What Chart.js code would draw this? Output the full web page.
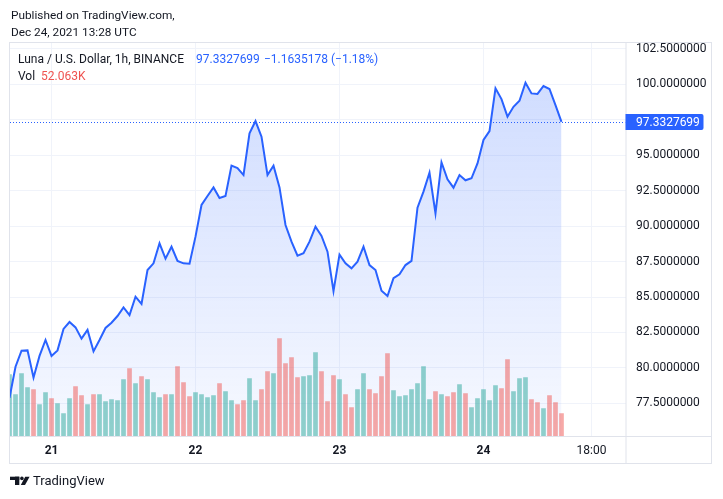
<!DOCTYPE html>
<html><head><meta charset="utf-8">
<script src="https://cdn.jsdelivr.net/npm/chart.js@4.4.0/dist/chart.umd.min.js"></script>
<style>
html,body{margin:0;padding:0;background:#fff;}
body{width:723px;height:499px;position:relative;overflow:hidden;font-family:Roboto,'Open Sans',sans-serif;color:#131722;}
#wrap{position:absolute;left:0;top:0;width:723px;height:499px;}
.t{position:absolute;white-space:nowrap;font-size:12px;line-height:16px;}
.blue{color:#2962ff;}
.red{color:#ef5350;}
</style></head><body>
<div id="wrap"><canvas id="c" width="723" height="499"></canvas></div>
<div class="t" style="left:11px;top:7px;font-size:11.8px">Published on TradingView.com,</div>
<div class="t" style="left:11px;top:24px;font-size:11.8px">Dec 24, 2021 13:28 UTC</div>
<div class="t" style="left:18px;top:51px">Luna / U.S. Dollar, 1h, BINANCE</div>
<div class="t blue" style="left:196px;top:51px" id="lastTxt"></div>
<div class="t blue" style="left:264px;top:51px">−1.1635178 (−1.18%)</div>
<div class="t" style="left:18px;top:68px">Vol</div>
<div class="t red" style="left:41px;top:68px">52.063K</div>
<svg style="position:absolute;left:0;top:470px" width="40" height="22">
  <rect x="10" y="6.7" width="9.3" height="3.3" fill="#131722"/>
  <rect x="15" y="6.7" width="4.3" height="8.3" fill="#131722"/>
  <circle cx="21.9" cy="8.4" r="1.8" fill="#131722"/>
  <polygon points="25.2,6.7 29.6,6.7 25,15 20.8,15" fill="#131722"/>
</svg>
<div class="t" style="left:33px;top:472px;font-size:13px;line-height:18px">TradingView</div>
<script>
// ---- data ----
const startHour = -7; // Dec 20 17:00, hours relative to Dec 21 00:00 (hourly bars)
const prices = [
  77.9, 80.09, 81.22, 81.24, 79.32, 80.85, 81.97,
  80.85, 81.24, 82.75, 83.24, 82.86, 82.07, 82.68, 81.17, 81.97, 82.82, 83.19, 83.66, 84.27, 83.73, 85.02, 84.51, 86.90, 87.37, 88.78, 87.70, 88.54, 87.54, 87.37, 87.35,
  89.25, 91.48, 92.11, 92.72, 91.97, 92.11, 94.25, 94.08, 93.59, 96.53, 97.39, 96.29, 93.59, 94.25, 92.72, 90.07, 88.90, 87.91, 88.08, 88.90, 89.95, 89.30, 88.19, 85.42,
  87.98, 87.37, 87.02, 87.49, 88.54, 87.25, 86.90, 85.44, 85.07, 86.32, 86.60, 87.25, 87.54, 91.29, 92.42, 93.75, 90.89, 94.48, 93.29, 92.70, 93.59, 93.22, 93.36, 94.41,
  96.06, 96.69, 99.70, 98.94, 97.70, 98.40, 98.82, 100.09, 99.34, 99.30, 99.86, 99.65, 98.52, 97.3327699
];
const volumes = [
  141.6, 95.7, 143.9, 111.8, 107.2, 72.7, 100.3,
  86.5, 75.0, 52.1, 86.5, 114.1, 93.4, 72.7, 95.7, 95.7, 79.6, 84.2, 81.9, 130.2, 155.4, 121.0, 137.0, 130.2, 100.3, 88.8, 95.7, 95.7, 160.0, 123.3, 91.1,
  100.3, 95.7, 88.8, 93.4, 121.0, 102.6, 81.9, 72.7, 81.9, 132.4, 81.9, 107.2, 148.5, 143.9, 224.3, 166.9, 180.7, 134.7, 137.0, 139.3, 192.2, 148.5, 79.6, 139.3,
  130.2, 95.7, 65.8, 107.2, 143.9, 107.2, 98.0, 137.0, 189.9, 104.9, 91.1, 93.4, 107.2, 121.0, 160.0, 84.2, 102.6, 95.7, 91.1, 100.3, 118.7, 98.0, 65.8, 86.5,
  107.2, 81.9, 116.4, 109.5, 176.1, 102.6, 132.4, 134.7, 84.2, 77.3, 63.5, 93.4, 77.3, 52.063
];
const priceTicks = [77.5, 80, 82.5, 85, 87.5, 90, 92.5, 95, 97.5, 100, 102.5];
const timeTicks = [0, 24, 48, 72, 90];
const timeTickLabels = ['21', '22', '23', '24', '18:00'];
const timeTickBold = [true, true, true, true, false];

// ---- derived ----
const hours = prices.map((_, i) => startHour + i);
const pricePts = prices.map((p, i) => ({x: hours[i], y: p}));
const volPts = volumes.map((v, i) => ({x: hours[i], y: v}));
const volColors = prices.map((p, i) => (i === 0 || p >= prices[i - 1]) ? 'rgba(38,166,154,0.5)' : 'rgba(239,83,80,0.5)');
const lastPrice = prices[prices.length - 1];
document.getElementById('lastTxt').textContent = lastPrice.toFixed(7);

const FONT = "Roboto, 'Open Sans', sans-serif";
const BORDER = '#e0e3eb';

const framePlugin = {
  id: 'frame',
  afterDatasetsDraw(chart) {
    const {ctx, chartArea, scales} = chart;
    const y = Math.round(scales.y.getPixelForValue(lastPrice)) + 0.5;
    ctx.save();
    ctx.strokeStyle = '#2962ff';
    ctx.lineWidth = 1;
    ctx.setLineDash([1, 2]);
    ctx.beginPath();
    ctx.moveTo(chartArea.left, y);
    ctx.lineTo(chartArea.right, y);
    ctx.stroke();
    ctx.restore();
  },
  afterDraw(chart) {
    const {ctx, chartArea, scales} = chart;
    ctx.save();
    ctx.strokeStyle = BORDER;
    ctx.lineWidth = 1;
    ctx.strokeRect(9.5, 42.5, 702, 421);
    ctx.beginPath();
    ctx.moveTo(chartArea.right + 0.5, 42.5);
    ctx.lineTo(chartArea.right + 0.5, 463.5);
    ctx.moveTo(9.5, chartArea.bottom + 0.5);
    ctx.lineTo(711.5, chartArea.bottom + 0.5);
    ctx.stroke();
    const y = scales.y.getPixelForValue(lastPrice);
    ctx.fillStyle = '#2962ff';
    ctx.beginPath();
    ctx.roundRect(chartArea.right, Math.round(y) - 8, 78, 16, [0, 2, 2, 0]);
    ctx.fill();
    ctx.fillStyle = '#ffffff';
    ctx.font = '12px ' + FONT;
    ctx.textBaseline = 'middle';
    ctx.textAlign = 'left';
    ctx.fillText(lastPrice.toFixed(7), chartArea.right + 10.5, Math.round(y) + 0.5);
    ctx.restore();
  }
};

new Chart(document.getElementById('c'), {
  type: 'bar',
  data: {
    datasets: [
      {
        type: 'line', data: pricePts, yAxisID: 'y', xAxisID: 'x',
        borderWidth: 0, pointRadius: 0, fill: 'start', order: 3,
        backgroundColor(ctx) {
          const ca = ctx.chart.chartArea;
          if (!ca) return 'rgba(41,98,255,0.12)';
          const g = ctx.chart.ctx.createLinearGradient(0, ca.top, 0, ca.bottom);
          g.addColorStop(0, 'rgba(41,98,255,0.24)');
          g.addColorStop(1, 'rgba(41,98,255,0.04)');
          return g;
        }
      },
      {
        type: 'bar', data: volPts, yAxisID: 'vol', xAxisID: 'x',
        backgroundColor: volColors, borderWidth: 0,
        barPercentage: 0.78, categoryPercentage: 1, order: 2
      },
      {
        type: 'line', data: pricePts, yAxisID: 'y', xAxisID: 'x',
        borderColor: '#2962ff', borderWidth: 2, pointRadius: 0, fill: false, order: 1,
        tension: 0
      }
    ]
  },
  options: {
    responsive: false,
    animation: false,
    layout: {padding: {left: 10, top: 43, right: 11, bottom: 36}},
    plugins: {legend: {display: false}, tooltip: {enabled: false}},
    scales: {
      x: {
        type: 'linear', position: 'bottom', min: -6.92, max: 95.67,
        offset: false,
        afterBuildTicks(s) { s.ticks = timeTicks.map(v => ({value: v})); },
        afterFit(s) { s.height = 27; s.paddingLeft = 0; s.paddingRight = 0; },
        border: {display: false},
        grid: {color: '#f0f3fa', drawTicks: false, offset: false},
        ticks: {
          autoSkip: false, maxRotation: 0, padding: 8, color: '#131722',
          font(ctx) { return {family: FONT, size: 12, weight: timeTickBold[ctx.index] ? 'bold' : 'normal'}; },
          callback(v) { const i = timeTicks.indexOf(v); return i >= 0 ? timeTickLabels[i] : ''; }
        }
      },
      y: {
        type: 'linear', position: 'right', min: 75.21, max: 102.89,
        afterBuildTicks(s) { s.ticks = priceTicks.map(v => ({value: v})); },
        afterFit(s) { s.width = 86.5; },
        border: {display: false},
        grid: {color: '#f0f3fa', drawTicks: false},
        ticks: {
          padding: 10.5, color: '#131722', font: {family: FONT, size: 12},
          callback(v) { return Number(v).toFixed(7); }
        }
      },
      vol: {type: 'linear', display: false, min: 0, max: 901.6}
    }
  },
  plugins: [framePlugin]
});
</script>
</body></html>
